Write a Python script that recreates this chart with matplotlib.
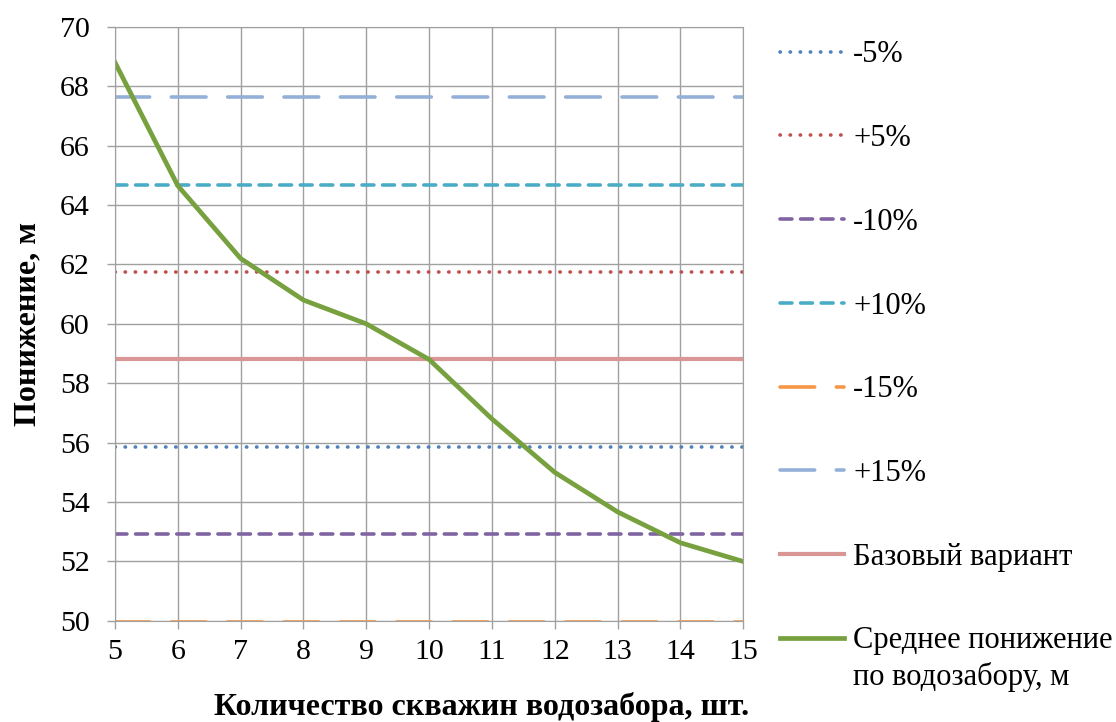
import numpy as np
from matplotlib import pyplot as plt
from matplotlib.text import Annotation

plt.rcParams['font.family'] = ['Liberation Serif', 'DejaVu Serif']

# --- Données ---
nb_puits = [5, 6, 7, 8, 9, 10, 11, 12, 13, 14, 15]
pon_moy = [68.8, 64.65, 62.2, 60.8, 60.0, 58.8, 56.8, 55.0, 53.67, 52.63, 52.0]

base = 58.8
niveaux = {
    "-5%": 55.86,
    "+5%": 61.74,
    "-10%": 52.92,
    "+10%": 64.68,
    "-15%": 49.98,
    "+15%": 67.62,
}

pointille = (0, (0.1, 2.7))
tirets = (0, (3.3, 2.4))
longs = (0, (9.6, 6.0))
styles = {
    "-5%": dict(color="#4F81BD", linestyle=pointille, lw=2.6),
    "+5%": dict(color="#C0504D", linestyle=pointille, lw=2.6),
    "-10%": dict(color="#8064A2", linestyle=tirets, lw=2.6),
    "+10%": dict(color="#4BACC6", linestyle=tirets, lw=2.6),
    "-15%": dict(color="#F79646", linestyle=longs, lw=2.6),
    "+15%": dict(color="#95B0D8", linestyle=longs, lw=2.6),
}

fig = plt.figure(figsize=(11.16, 7.22), dpi=100)
ax = fig.add_axes([0.103, 0.14, 0.563, 0.823])

for nom, val in niveaux.items():
    ax.plot(nb_puits, [val] * len(nb_puits), label=nom, dash_capstyle="round", **styles[nom])
ax.plot(nb_puits, [base] * len(nb_puits), color="#D99694", lw=3.0, label="Базовый вариант")
ax.plot(nb_puits, pon_moy, color="#77A03F", lw=3.4, label="Среднее понижение")

ax.set_xlim(5, 15)
ax.set_ylim(50, 70)
ax.set_xticks(np.arange(5, 16, 1))
ax.set_yticks(np.arange(50, 71, 2))
ax.tick_params(labelsize=21.5, color="#A0A0A0", length=6, width=1)
ax.tick_params(axis="y", pad=12)
ax.tick_params(axis="x", pad=7)
ax.grid(True, color="#A0A0A0", lw=1)
ax.set_axisbelow(True)
for s in ax.spines.values():
    s.set_color("#A0A0A0")

ax.set_xlabel("Количество скважин водозабора, шт.", fontsize=23, fontweight="bold")
ax.set_ylabel("Понижение, м", fontsize=23, fontweight="bold")
ax.xaxis.set_label_coords(0.583, -0.12)
ax.yaxis.set_label_coords(-0.116, 0.5)

leg = fig.legend(loc="upper left", bbox_to_anchor=(0.674, 0.982), frameon=False, fontsize=22,
                 handlelength=2.1, handletextpad=0.3, labelspacing=1.79)
# deuxième ligne de la dernière légende, sous la première
ligne2 = Annotation("по водозабору, м", xy=(0, 0), xycoords=leg.texts[-1], xytext=(0, -5),
                    textcoords="offset points", va="top", ha="left", fontsize=22)
ligne2.set_zorder(6)
fig.add_artist(ligne2)

plt.savefig("out.png", dpi=100)
plt.close()
